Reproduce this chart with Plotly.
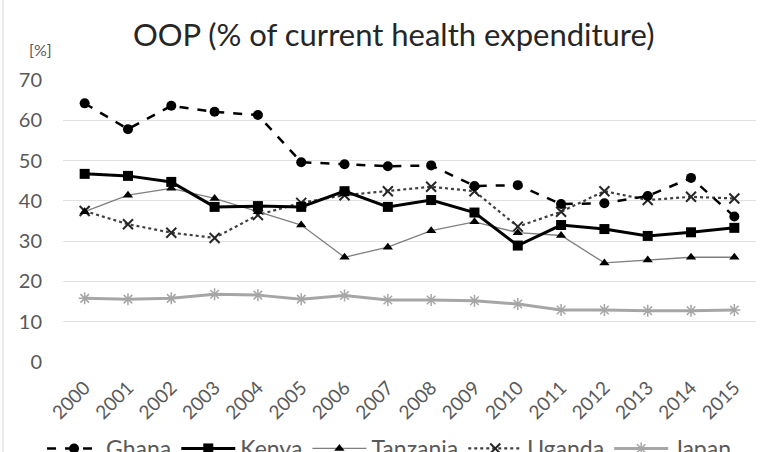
import plotly.graph_objects as go

years = [str(y) for y in range(2000, 2016)]
ghana = [64.2, 57.8, 63.6, 62.1, 61.3, 49.6, 49.1, 48.6, 48.8, 43.7, 43.9, 39.2, 39.4, 41.2, 45.7, 36.1]
kenya = [46.7, 46.2, 44.7, 38.5, 38.7, 38.5, 42.4, 38.5, 40.2, 37.1, 28.9, 34.0, 33.0, 31.3, 32.2, 33.3]
tanzania = [37.3, 41.4, 43.1, 40.6, 37.3, 34.0, 26.0, 28.5, 32.6, 34.8, 32.1, 31.4, 24.6, 25.3, 26.0, 26.0]
uganda = [37.5, 34.2, 32.1, 30.8, 36.5, 39.5, 41.4, 42.4, 43.5, 42.4, 33.6, 37.3, 42.4, 40.2, 41.0, 40.6]
japan = [15.8, 15.6, 15.8, 16.8, 16.6, 15.6, 16.5, 15.4, 15.4, 15.2, 14.4, 12.9, 12.9, 12.7, 12.7, 12.9]

FONT = "Lato"
TXT = "#595959"

fig = go.Figure()
fig.add_trace(go.Scatter(x=years, y=japan, name="Japan", mode="lines+markers",
                         line=dict(color="#a6a6a6", width=3),
                         marker=dict(symbol="asterisk-open", size=10, color="#a6a6a6", line=dict(width=1.5, color="#a6a6a6"))))
fig.add_trace(go.Scatter(x=years, y=uganda, name="Uganda", mode="lines+markers",
                         line=dict(color="#404040", width=2.2, dash="dot"),
                         marker=dict(symbol="x-thin-open", size=10, color="#262626", line=dict(width=2, color="#262626"))))
fig.add_trace(go.Scatter(x=years, y=tanzania, name="Tanzania", mode="lines+markers",
                         line=dict(color="#7f7f7f", width=1.3),
                         marker=dict(symbol="triangle-up", size=9, color="#000000")))
fig.add_trace(go.Scatter(x=years, y=kenya, name="Kenya", mode="lines+markers",
                         line=dict(color="#000000", width=3),
                         marker=dict(symbol="square", size=10, color="#000000")))
fig.add_trace(go.Scatter(x=years, y=ghana, name="Ghana", mode="lines+markers",
                         line=dict(color="#000000", width=2.5, dash="dash"),
                         marker=dict(symbol="circle", size=10, color="#000000")))

fig.update_layout(
    width=775, height=452,
    margin=dict(l=63, r=19, t=80, b=90, autoexpand=False),
    paper_bgcolor="white", plot_bgcolor="white",
    font=dict(family=FONT, color=TXT, size=19),
    title=dict(text="OOP (% of current health expenditure)", x=0.508, xref="container", xanchor="center",
               y=1 - 35 / 452, yref="container", yanchor="middle",
               font=dict(family=FONT, size=31, color="#262626")),
    showlegend=True,
    legend=dict(orientation="h", xref="container", x=0.502, xanchor="center",
                yref="container", y=1 - 427 / 452, yanchor="top",
                traceorder="reversed", font=dict(size=23, color=TXT), itemwidth=54),
    xaxis=dict(type="category", range=[-0.5, 15.5], showgrid=False, showline=False, zeroline=False,
               tickangle=-45, tickfont=dict(size=19, color=TXT), ticks="", automargin=False,
               ticklabelstandoff=10),
    yaxis=dict(range=[0, 70], dtick=10, showgrid=True, gridcolor="#e0e0e0", gridwidth=1.2,
               zeroline=False, showline=False, ticks="", ticklabelstandoff=20, automargin=False,
               tickfont=dict(size=20, color=TXT)),
)

fig.add_annotation(text="[%]", xref="paper", yref="paper", x=(40 - 63) / 693, y=(362 - 50) / 282,
                   showarrow=False, xanchor="center", yanchor="middle", font=dict(size=16, color=TXT))
fig.add_shape(type="line", xref="paper", yref="paper", x0=(3 - 63) / 693, x1=(3 - 63) / 693,
              y0=-0.4, y1=1.4, line=dict(color="#e6e6e6", width=1.5))

fig.write_html("out.html")
